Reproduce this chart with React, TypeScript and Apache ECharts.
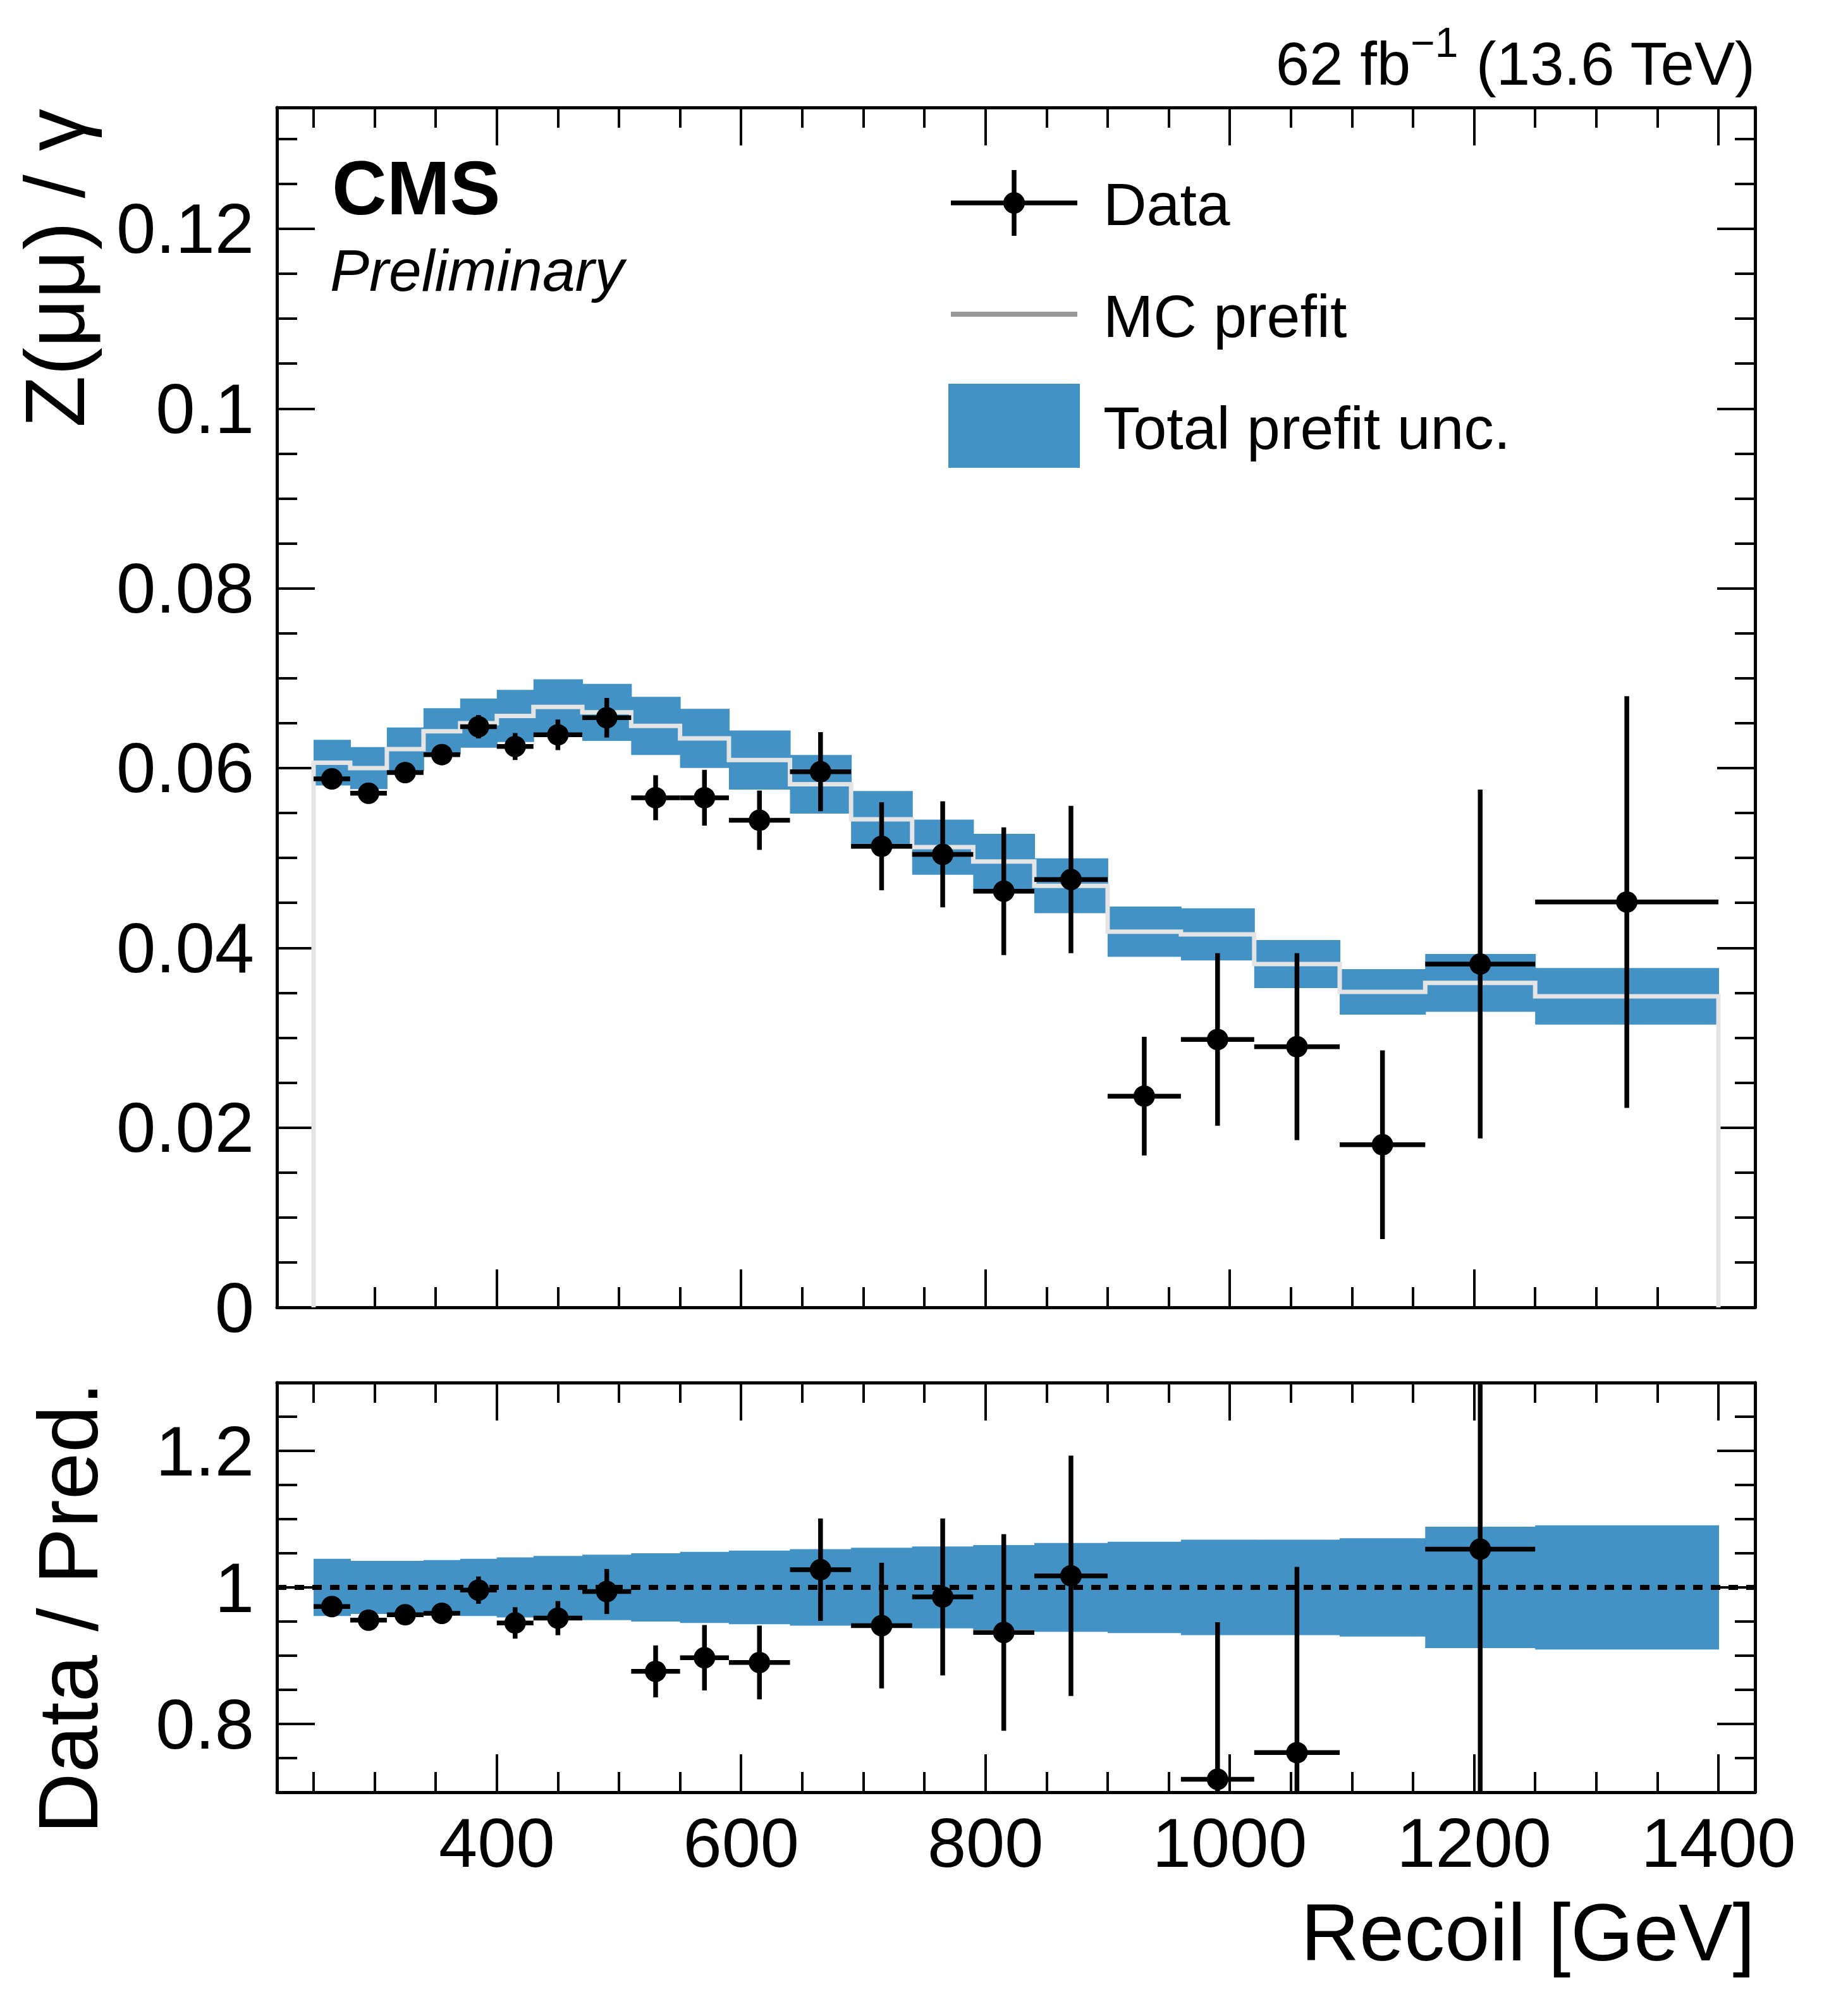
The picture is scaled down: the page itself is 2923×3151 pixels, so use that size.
import { useEffect, useRef } from 'react';
import * as echarts from 'echarts';

// bins of the recoil distribution [GeV]
const binEdges = [250, 280, 310, 340, 370, 400, 430, 470, 510, 550, 590, 640, 690, 740, 790, 840, 900, 960, 1020, 1090, 1160, 1250, 1400];

// MC prefit Z(mumu)/gamma ratio per bin
const mcPrefit = [0.0606, 0.0600, 0.0621, 0.0641, 0.0650, 0.0658, 0.0668, 0.0662, 0.0647, 0.0633, 0.0609, 0.0582,
    0.0543, 0.0512, 0.0496, 0.0469, 0.0418, 0.0415, 0.0382, 0.0351, 0.0361, 0.0346];
// total prefit relative uncertainty per bin
const relUnc = [0.042, 0.039, 0.039, 0.040, 0.042, 0.044, 0.046, 0.048, 0.050, 0.052, 0.054, 0.056,
    0.058, 0.060, 0.062, 0.065, 0.067, 0.070, 0.070, 0.072, 0.089, 0.091];

// data points and their uncertainties
const dataVal = [0.0588, 0.0572, 0.0595, 0.0615, 0.0646, 0.0624, 0.0637, 0.0656, 0.0567, 0.0567, 0.0542, 0.0596,
    0.0513, 0.0504, 0.0463, 0.0476, 0.0235, 0.0298, 0.0290, 0.0181, 0.0382, 0.0451];
const dataErr = [0.0006, 0.0006, 0.0007, 0.0008, 0.0013, 0.0015, 0.0017, 0.0022, 0.0025, 0.0031, 0.0033, 0.0044,
    0.0049, 0.0059, 0.0071, 0.0082, 0.0066, 0.0096, 0.0104, 0.0105, 0.0194, 0.0229];

// data / prediction (null = outside the ratio panel)
const ratioVal = [0.972, 0.952, 0.960, 0.962, 0.996, 0.948, 0.955, 0.994, 0.877, 0.897, 0.890, 1.026,
    0.944, 0.986, 0.934, 1.017, null, 0.719, 0.758, null, 1.056, null];
const ratioErr = [0.010, 0.010, 0.011, 0.012, 0.020, 0.023, 0.025, 0.033, 0.038, 0.048, 0.054, 0.075,
    0.092, 0.115, 0.144, 0.176, null, 0.230, 0.272, null, 0.537, null];

// axis ticks
const xMajorTicks = [400, 600, 800, 1000, 1200, 1400];
const xMinorTicks = [250, 300, 350, 400, 450, 500, 550, 600, 650, 700, 750, 800, 850, 900, 950, 1000, 1050, 1100, 1150, 1200, 1250, 1300, 1350, 1400];
const yMajorTicks = [0, 0.02, 0.04, 0.06, 0.08, 0.1, 0.12];
const yMinorTicks = [0.005, 0.01, 0.015, 0.02, 0.025, 0.03, 0.035, 0.04, 0.045, 0.05, 0.055, 0.06, 0.065, 0.07,
    0.075, 0.08, 0.085, 0.09, 0.095, 0.1, 0.105, 0.11, 0.115, 0.12, 0.125, 0.13];
const rMajorTicks = [0.8, 1, 1.2];
const rMinorTicks = [0.75, 0.8, 0.85, 0.9, 0.95, 1, 1.05, 1.1, 1.15, 1.2, 1.25];

const X_MIN = 220, X_MAX = 1430;
const Y_MAX = 0.1335;
const R_MIN = 0.7, R_MAX = 1.3;

const FONT = "'Liberation Sans', Arial, Helvetica, sans-serif";
const BLUE = '#4292c6';
const MC_COLOR = '#e4e4e4';

const L = 438, R = 2776;
const TOP1 = 170, BOT1 = 2068, TOP2 = 2187, BOT2 = 2835;

export default function App() {
    const chartRef = useRef<HTMLDivElement>(null);

    useEffect(() => {
        if (!chartRef.current) return;
        const chart = echarts.init(chartRef.current, null, { renderer: 'svg' });

        const nb = binEdges.length - 1;
        const bins = Array.from({ length: nb }, (_, i) => [binEdges[i], binEdges[i + 1]]);

        const bandUpper = bins.map((b, i) => [b[0], b[1], mcPrefit[i] * (1 - relUnc[i]), mcPrefit[i] * (1 + relUnc[i])]);
        const bandLower = bins.map((b, i) => [b[0], b[1], 1 - relUnc[i], 1 + relUnc[i]]);
        const pointsUpper = bins.map((b, i) => [b[0], b[1], dataVal[i], dataErr[i]]);
        const pointsLower = bins
            .map((b, i) => [b[0], b[1], ratioVal[i], ratioErr[i]])
            .filter(p => p[2] !== null);

        // histogram step of the MC prediction, down to zero at both ends
        const mcStep: number[][] = [[binEdges[0], 0]];
        bins.forEach((b, i) => {
            mcStep.push([b[0], mcPrefit[i]]);
            mcStep.push([b[1], mcPrefit[i]]);
        });
        mcStep.push([binEdges[nb], 0]);

        const renderBand = (params: any, api: any) => {
            const p0 = api.coord([api.value(0), api.value(3)]);
            const p1 = api.coord([api.value(1), api.value(2)]);
            return {
                type: 'rect',
                shape: { x: p0[0], y: p0[1], width: p1[0] - p0[0] + 1, height: p1[1] - p0[1] },
                style: { fill: BLUE }
            };
        };

        const renderPoint = (params: any, api: any) => {
            const lo = api.value(0), hi = api.value(1), v = api.value(2), e = api.value(3);
            const pl = api.coord([lo, v]);
            const ph = api.coord([hi, v]);
            const pt = api.coord([lo, v + e]);
            const pb = api.coord([lo, v - e]);
            const cx = (pl[0] + ph[0]) / 2;
            const stroke = { stroke: '#000', lineWidth: 7.5 };
            return {
                type: 'group',
                children: [
                    { type: 'line', shape: { x1: pl[0], y1: pl[1], x2: ph[0], y2: ph[1] }, style: stroke },
                    { type: 'line', shape: { x1: cx, y1: pt[1], x2: cx, y2: pb[1] }, style: stroke },
                    { type: 'circle', shape: { cx, cy: pl[1], r: 17 }, style: { fill: '#000' } }
                ]
            };
        };

        const tickLine = { color: '#000', width: 4 };
        const xAxis = (gridIndex: number, position: string, ticks: number[], len: number, line: boolean, labels: boolean) => ({
            type: 'value', gridIndex, position, min: X_MIN, max: X_MAX,
            axisLine: { show: line, onZero: false, lineStyle: { color: '#000', width: 5 } },
            axisTick: { show: true, inside: true, length: len, customValues: ticks, lineStyle: tickLine },
            axisLabel: labels
                ? {
                    show: true, customValues: ticks, margin: 34, fontSize: 110, lineHeight: 90,
                    color: '#000', fontFamily: FONT,
                    formatter: (v: number) => String(v)
                }
                : { show: false },
            splitLine: { show: false },
            minorTick: { show: false }
        });
        const yAxis = (gridIndex: number, position: string, min: number, max: number, ticks: number[], len: number, line: boolean, labels: boolean) => ({
            type: 'value', gridIndex, position, min, max,
            axisLine: { show: line, onZero: false, lineStyle: { color: '#000', width: 5 } },
            axisTick: { show: true, inside: true, length: len, customValues: ticks, lineStyle: tickLine },
            axisLabel: labels
                ? {
                    show: true, customValues: ticks, margin: 36, fontSize: 112, color: '#000', fontFamily: FONT,
                    formatter: (v: number) => String(v)
                }
                : { show: false },
            splitLine: { show: false },
            minorTick: { show: false }
        });

        const MAJ = 60, MIN = 32;

        const option: any = {
            backgroundColor: '#fff',
            animation: false,
            grid: [
                { left: L, top: TOP1, width: R - L, height: BOT1 - TOP1 },
                { left: L, top: TOP2, width: R - L, height: BOT2 - TOP2 }
            ],
            xAxis: [
                xAxis(0, 'bottom', xMajorTicks, MAJ, true, false),
                xAxis(0, 'bottom', xMinorTicks, MIN, false, false),
                xAxis(0, 'top', xMajorTicks, MAJ, true, false),
                xAxis(0, 'top', xMinorTicks, MIN, false, false),
                xAxis(1, 'bottom', xMajorTicks, MAJ, true, true),
                xAxis(1, 'bottom', xMinorTicks, MIN, false, false),
                xAxis(1, 'top', xMajorTicks, MAJ, true, false),
                xAxis(1, 'top', xMinorTicks, MIN, false, false)
            ],
            yAxis: [
                yAxis(0, 'left', 0, Y_MAX, yMajorTicks, MAJ, true, true),
                yAxis(0, 'left', 0, Y_MAX, yMinorTicks, MIN, false, false),
                yAxis(0, 'right', 0, Y_MAX, yMajorTicks, MAJ, true, false),
                yAxis(0, 'right', 0, Y_MAX, yMinorTicks, MIN, false, false),
                yAxis(1, 'left', R_MIN, R_MAX, rMajorTicks, MAJ, true, true),
                yAxis(1, 'left', R_MIN, R_MAX, rMinorTicks, MIN, false, false),
                yAxis(1, 'right', R_MIN, R_MAX, rMajorTicks, MAJ, true, false),
                yAxis(1, 'right', R_MIN, R_MAX, rMinorTicks, MIN, false, false)
            ],
            series: [
                {
                    name: 'Total prefit unc.',
                    type: 'custom',
                    xAxisIndex: 0, yAxisIndex: 0,
                    data: bandUpper,
                    encode: { x: [0, 1], y: [2, 3] },
                    renderItem: renderBand,
                    clip: true, silent: true, z: 2
                },
                {
                    name: 'MC prefit',
                    type: 'line',
                    xAxisIndex: 0, yAxisIndex: 0,
                    data: mcStep,
                    showSymbol: false, symbol: 'none',
                    lineStyle: { color: MC_COLOR, width: 7, join: 'miter' },
                    silent: true, z: 3
                },
                {
                    name: 'Data',
                    type: 'custom',
                    xAxisIndex: 0, yAxisIndex: 0,
                    data: pointsUpper,
                    encode: { x: [0, 1], y: 2 },
                    renderItem: renderPoint,
                    clip: true, silent: true, z: 4
                },
                {
                    name: 'Ratio band',
                    type: 'custom',
                    xAxisIndex: 4, yAxisIndex: 4,
                    data: bandLower,
                    encode: { x: [0, 1], y: [2, 3] },
                    renderItem: renderBand,
                    clip: true, silent: true, z: 2,
                    markLine: {
                        silent: true,
                        symbol: 'none',
                        label: { show: false },
                        lineStyle: { color: '#000', width: 8, type: [15, 13] },
                        data: [{ yAxis: 1 }],
                        z: 3
                    }
                },
                {
                    name: 'Ratio',
                    type: 'custom',
                    xAxisIndex: 4, yAxisIndex: 4,
                    data: pointsLower,
                    encode: { x: [0, 1], y: 2 },
                    renderItem: renderPoint,
                    clip: true, silent: true, z: 4
                }
            ],
            graphic: [
                // experiment label
                {
                    type: 'text', x: 525, y: 297,
                    style: { text: 'CMS', fontSize: 120, fontWeight: 'bold', fontFamily: FONT, fill: '#000', align: 'left', verticalAlign: 'middle', textAlign: 'left', textVerticalAlign: 'middle' }
                },
                {
                    type: 'text', x: 522, y: 428,
                    style: { text: 'Preliminary', fontSize: 93, fontStyle: 'italic', fontFamily: FONT, fill: '#000', align: 'left', verticalAlign: 'middle', textAlign: 'left', textVerticalAlign: 'middle' }
                },
                // luminosity / energy
                {
                    type: 'text', x: R, y: 100,
                    style: {
                        text: '{a|62 fb}{s|\u22121}{a| (13.6 TeV)}',
                        align: 'right', verticalAlign: 'middle', textAlign: 'right', textVerticalAlign: 'middle',
                        rich: {
                            a: { fontSize: 96, fontFamily: FONT, fill: '#000', color: '#000', lineHeight: 132 },
                            s: { fontSize: 66, fontFamily: FONT, fill: '#000', color: '#000', verticalAlign: 'top', lineHeight: 66 }
                        }
                    }
                },
                // axis titles
                {
                    type: 'text', x: 86, y: 172, rotation: Math.PI / 2,
                    style: { text: 'Z(\u03bc\u03bc) / \u03b3', fontSize: 134, fontFamily: FONT, fill: '#000', align: 'right', verticalAlign: 'middle', textAlign: 'right', textVerticalAlign: 'middle' }
                },
                {
                    type: 'text', x: 107, y: 2186, rotation: Math.PI / 2,
                    style: { text: 'Data / Pred.', fontSize: 134, fontFamily: FONT, fill: '#000', align: 'right', verticalAlign: 'middle', textAlign: 'right', textVerticalAlign: 'middle' }
                },
                {
                    type: 'text', x: R, y: 3056,
                    style: { text: 'Recoil [GeV]', fontSize: 128, lineHeight: 100, fontFamily: FONT, fill: '#000', align: 'right', verticalAlign: 'middle', textAlign: 'right', textVerticalAlign: 'middle' }
                },
                // legend
                { type: 'line', shape: { x1: 1504, y1: 321, x2: 1704, y2: 321 }, style: { stroke: '#000', lineWidth: 7.5 } },
                { type: 'line', shape: { x1: 1604, y1: 269, x2: 1604, y2: 373 }, style: { stroke: '#000', lineWidth: 7.5 } },
                { type: 'circle', shape: { cx: 1604, cy: 321, r: 17 }, style: { fill: '#000' } },
                { type: 'line', shape: { x1: 1504, y1: 497, x2: 1704, y2: 497 }, style: { stroke: '#999999', lineWidth: 8 } },
                { type: 'rect', shape: { x: 1500, y: 607, width: 208, height: 133 }, style: { fill: BLUE } },
                {
                    type: 'text', x: 1745, y: 323,
                    style: { text: 'Data', fontSize: 95, fontFamily: FONT, fill: '#000', align: 'left', verticalAlign: 'middle', textAlign: 'left', textVerticalAlign: 'middle' }
                },
                {
                    type: 'text', x: 1745, y: 500,
                    style: { text: 'MC prefit', fontSize: 95, fontFamily: FONT, fill: '#000', align: 'left', verticalAlign: 'middle', textAlign: 'left', textVerticalAlign: 'middle' }
                },
                {
                    type: 'text', x: 1745, y: 677,
                    style: { text: 'Total prefit unc.', fontSize: 95, fontFamily: FONT, fill: '#000', align: 'left', verticalAlign: 'middle', textAlign: 'left', textVerticalAlign: 'middle' }
                }
            ]
        };

        chart.setOption(option);

        return () => {
            chart.dispose();
        };
    }, []);

    return (
        <div
            ref={chartRef}
            style={{ position: 'absolute', left: 0, top: 0, width: '2923px', height: '3151px' }}
        />
    );
}
